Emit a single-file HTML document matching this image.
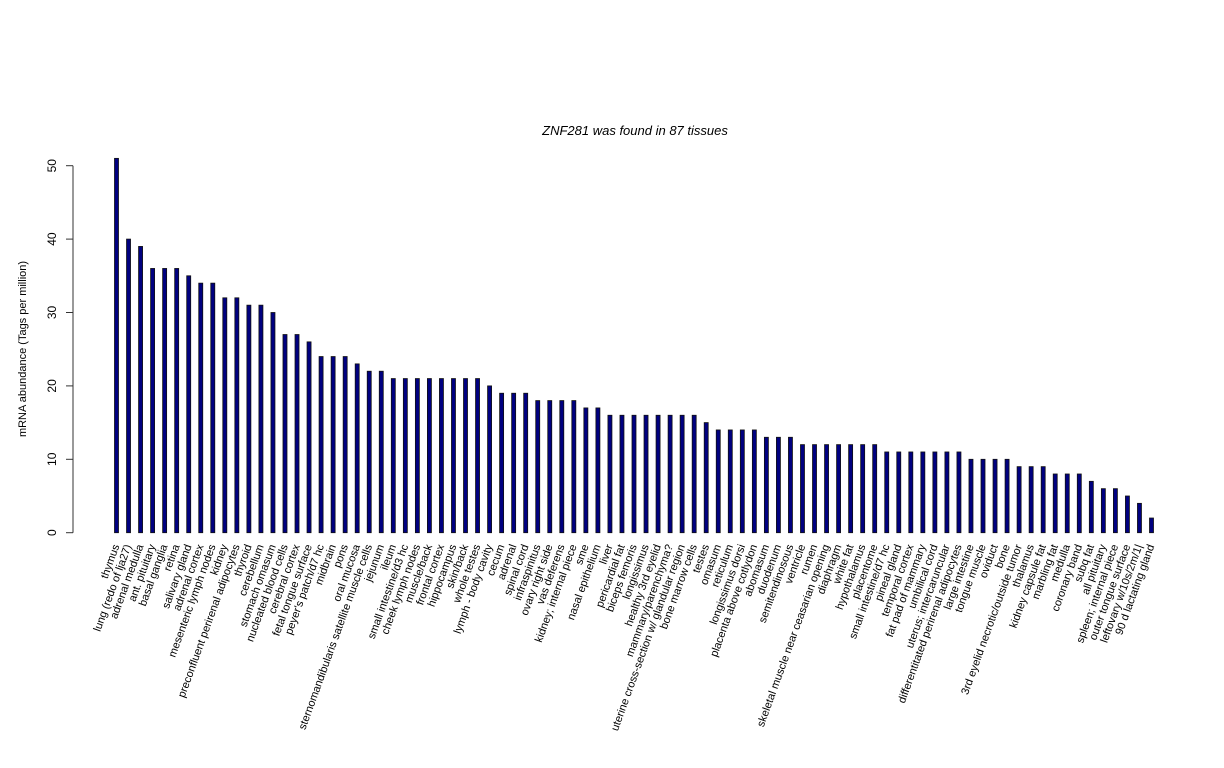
<!DOCTYPE html>
<html><head><meta charset="utf-8"><style>
html,body{margin:0;padding:0;background:#fff;}
svg{display:block;font-family:"Liberation Sans",sans-serif;}
</style></head><body>
<svg id="chart" width="1224" height="768" viewBox="0 0 1224 768" xmlns="http://www.w3.org/2000/svg">
<rect width="1224" height="768" fill="#fff"/>
<text x="635" y="135" font-size="13" font-style="italic" text-anchor="middle">ZNF281  was found in  87  tissues</text>
<text transform="translate(26,349) rotate(-90)" font-size="11" text-anchor="middle">mRNA abundance (Tags per million)</text>
<g id="yaxis"></g>
<g id="bars"></g>
<g id="xlabels"></g>
</svg>
<script>
const categories = ["thymus","lung (redo of lja27)","adrenal medulla","ant. pituitary","basal ganglia","retina","salivary gland","adrenal cortex","mesenteric lymph nodes","kidney","preconfluent perirenal adipocytes","thyroid","cerebellum","stomach omasum","nucleated blood cells","cerebral cortex","fetal tongue surface","peyer's patch/d7 hc","midbrain","pons","oral mucosa","sternomandibularis satellite muscle cells","jejunum","ileum","small intestine/d3 hc","cheek lymph nodes","muscle/back","frontal cortex","hippocampus","skin/back","whole testes","lymph - body cavity","cecum","adrenal","spinal cord","infraspinitus","ovary right side","vas deferens","kidney; internal piece","sme","nasal epithelium","liver","pericardial fat","biceps femoris","longissimus","healthy 3rd eyelid","mammary/parenchyma?","uterine cross-section w/ glandular region","bone marrow cells","testes","omasum","reticulum","longissimus dorsi","placenta above cotlydon","abomasum","duodenum","semitendinosous","ventricle","rumen","skeletal muscle near ceasarian opening","diaphragm","white fat","hypothalamus","placentome","small intestine/d7 hc","pineal gland","temporal cortex","fat pad of mammary","umbilical cord","uterus; intercaruncular","differentitated perirenal adipocytes","large intestine","tongue muscle","oviduct","bone","3rd eyelid necrotic/outside tumor","thalamus","kidney capsule fat","marbling fat","medulla","coronary band","subq fat","all pituitary","spleen; internal piece","outer tongue surface","leftovary w/10s/2m/1|","90 d lactating gland"];
const values = [51,40,39,36,36,36,35,34,34,32,32,31,31,30,27,27,26,24,24,24,23,22,22,21,21,21,21,21,21,21,21,20,19,19,19,18,18,18,18,17,17,16,16,16,16,16,16,16,16,15,14,14,14,14,13,13,13,12,12,12,12,12,12,12,11,11,11,11,11,11,11,10,10,10,10,9,9,9,8,8,8,7,6,6,5,4,2];
const yTicks = [0,10,20,30,40,50];

const NS="http://www.w3.org/2000/svg";
const y0=532.7, pxPerUnit=7.34;
const yScale=v=>y0-v*pxPerUnit;
const xFirst=116.5, xLast=1151.5;
const xScale=i=>xFirst+i*(xLast-xFirst)/(categories.length-1);

const ya=document.getElementById('yaxis');
let ln=document.createElementNS(NS,'line');


ln.setAttribute('x1',73);ln.setAttribute('x2',73);
ln.setAttribute('y1',yScale(yTicks[0]));ln.setAttribute('y2',yScale(yTicks[yTicks.length-1]));
ln.setAttribute('stroke','#333');
ya.appendChild(ln);
yTicks.forEach(t=>{
  const y=yScale(t);
  const tk=document.createElementNS(NS,'line');
  
  
  tk.setAttribute('x1',66);tk.setAttribute('x2',73);tk.setAttribute('y1',y);tk.setAttribute('y2',y);
  tk.setAttribute('stroke','#333');
  ya.appendChild(tk);
  const tx=document.createElementNS(NS,'text');
  
  
  tx.setAttribute('transform','translate(56,'+y+') rotate(-90)');
  tx.setAttribute('font-size','12');
  tx.setAttribute('text-anchor','middle');
  tx.textContent=t;
  ya.appendChild(tx);
});

const bg=document.getElementById('bars');
const xl=document.getElementById('xlabels');
categories.forEach((c,i)=>{
  const x=xScale(i);
  const r=document.createElementNS(NS,'rect');
  
  
  r.setAttribute('x',x-2);r.setAttribute('width',4);
  r.setAttribute('y',yScale(values[i]));r.setAttribute('height',y0-yScale(values[i]));
  r.setAttribute('fill','#000080');r.setAttribute('stroke','#111');r.setAttribute('stroke-width','0.8');
  bg.appendChild(r);
  const t=document.createElementNS(NS,'text');
  
  
  t.setAttribute('transform','translate('+(x+3)+',546) rotate(-70)');
  t.setAttribute('font-size','11');
  t.setAttribute('text-anchor','end');
  t.textContent=c;
  xl.appendChild(t);
});
</script>
</body></html>
